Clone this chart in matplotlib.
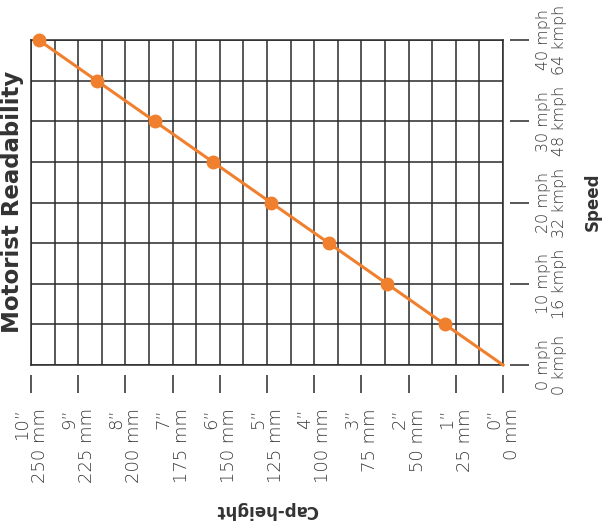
import numpy as np
import matplotlib
matplotlib.use('Agg')
import matplotlib.pyplot as plt

# Data
speed_mph = [0, 5, 10, 15, 20, 25, 30, 35, 40]
cap_height_in = [0, 1.23, 2.46, 3.69, 4.92, 6.15, 7.38, 8.61, 9.84]

cap_ticks = [0, 1, 2, 3, 4, 5, 6, 7, 8, 9, 10]
cap_tick_labels = ['0\u201d\n0 mm', '1\u201d\n25 mm', '2\u201d\n50 mm', '3\u201d\n75 mm',
                   '4\u201d\n100 mm', '5\u201d\n125 mm', '6\u201d\n150 mm', '7\u201d\n175 mm',
                   '8\u201d\n200 mm', '9\u201d\n225 mm', '10\u201d\n250 mm']
speed_ticks = [0, 10, 20, 30, 40]
speed_tick_labels = ['0 mph\n0 kmph', '10 mph\n16 kmph', '20 mph\n32 kmph',
                     '30 mph\n48 kmph', '40 mph\n64 kmph']

LINE_COLOR = '#f0802e'
GRID_COLOR = '#2a2a2a'
TEXT_COLOR = '#3a3a3a'

plt.rcParams['font.family'] = ['DejaVu Sans', 'Noto Sans', 'Lato']

fig = plt.figure(figsize=(6.02, 5.26), dpi=100)
ax = fig.add_axes([31 / 602, 1 - 365 / 526, 472 / 602, 325 / 526])

ax.plot(cap_height_in, speed_mph, color=LINE_COLOR, linewidth=2.2, zorder=3, clip_on=False)
ax.plot(cap_height_in[1:], speed_mph[1:], 'o', color=LINE_COLOR, markersize=9, zorder=4,
        clip_on=False)

ax.set_xlim(10, 0)
ax.set_ylim(0, 40)

# grid every half inch / 5 mph
ax.set_xticks(cap_ticks)
ax.set_xticks(np.arange(0, 10.5, 0.5), minor=True)
ax.set_yticks(speed_ticks)
ax.set_yticks(np.arange(0, 45, 5), minor=True)
ax.grid(True, which='both', color=GRID_COLOR, linewidth=1.1, zorder=0)
ax.axvline(0, color=GRID_COLOR, linewidth=1.1, clip_on=False, zorder=1)
ax.axhline(0, color=GRID_COLOR, linewidth=1.1, clip_on=False, zorder=1)

for side in ['left', 'top']:
    ax.spines[side].set_color(GRID_COLOR)
    ax.spines[side].set_linewidth(1.1)
ax.spines['bottom'].set_position(('outward', 7))
ax.spines['right'].set_position(('outward', 5))
ax.spines['bottom'].set_visible(False)
ax.spines['right'].set_visible(False)

ax.yaxis.tick_right()
ax.tick_params(which='minor', length=0)
ax.tick_params(axis='x', which='major', direction='out', length=13, width=1.1,
               color=GRID_COLOR, pad=11)
ax.tick_params(axis='y', which='major', direction='out', length=14, width=1.1,
               color=GRID_COLOR, pad=5, right=True, left=False)

ax.set_xticklabels(cap_tick_labels, rotation=90, ha='center', va='top',
                   multialignment='right', fontsize=13, color=TEXT_COLOR,
                   linespacing=1.0, fontweight='light')
ax.set_yticklabels(speed_tick_labels, rotation=90, ha='left', va='center',
                   multialignment='center', fontsize=11.5, color=TEXT_COLOR,
                   linespacing=1.05, fontweight='light')

fig.text(593 / 602, 1 - 202 / 526, 'Speed', rotation=90, ha='center', va='center',
         fontsize=12, fontweight='bold', color='#333333')
fig.text(267 / 602, 1 - 510 / 526, 'Cap-height', rotation=180, ha='center', va='center',
         fontsize=12, fontweight='bold', color='#333333')
fig.text(19 / 602, 1 - 202 / 526, 'Motorist Readability', rotation=90, ha='center',
         va='baseline', rotation_mode='anchor', fontsize=16.5, fontweight='bold',
         color='#333333')

fig.savefig('out.png', dpi=100)
